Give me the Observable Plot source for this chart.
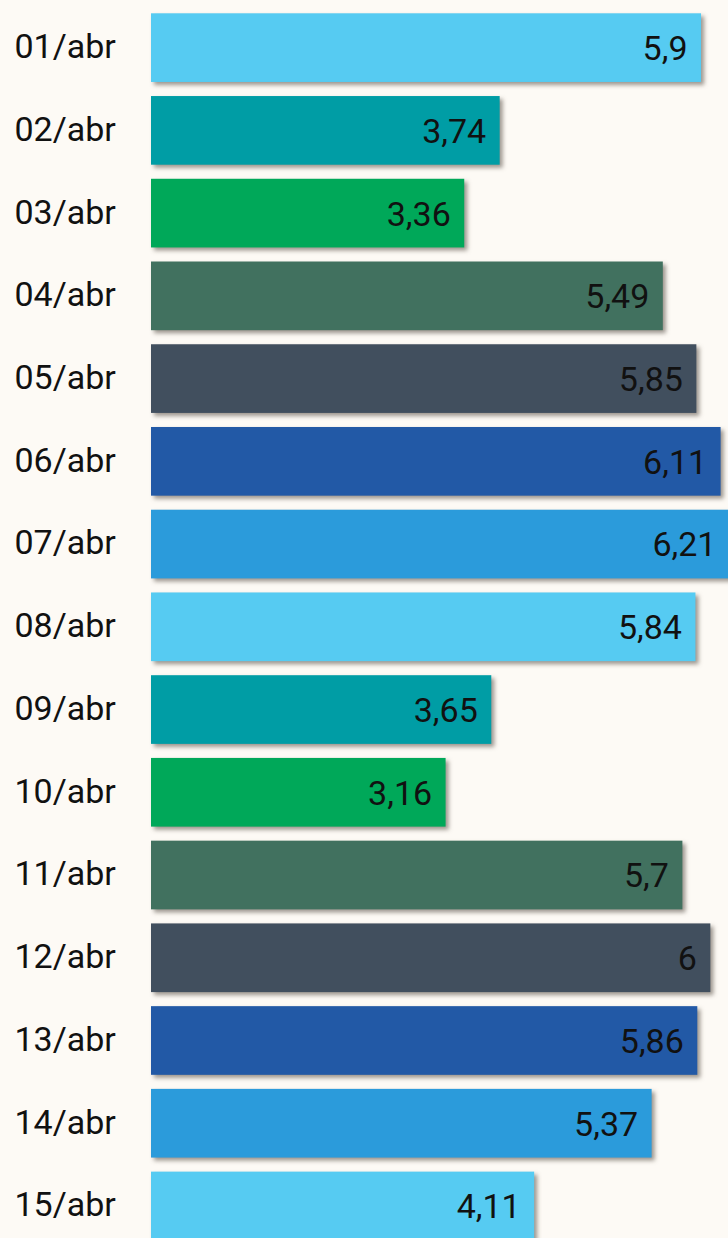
<!DOCTYPE html>
<html>
<head>
<meta charset="utf-8">
<script src="https://cdn.jsdelivr.net/npm/d3@7"></script>
<script src="https://cdn.jsdelivr.net/npm/@observablehq/plot@0.6"></script>
<style>
  html, body { margin: 0; padding: 0; background: #FDFAF5; overflow: hidden; }
  #chart { width: 728px; height: 1238px; overflow: hidden; }
  #chart svg { background: #FDFAF5; font-family: Roboto, sans-serif; }
  #chart svg g.bars rect { filter: drop-shadow(3px 3px 2px rgba(60,50,40,0.5)); }
</style>
</head>
<body>
<div id="chart"></div>
<script>
const days = ["01/abr","02/abr","03/abr","04/abr","05/abr","06/abr","07/abr","08/abr","09/abr","10/abr","11/abr","12/abr","13/abr","14/abr","15/abr"];
const values = [5.9, 3.74, 3.36, 5.49, 5.85, 6.11, 6.21, 5.84, 3.65, 3.16, 5.7, 6, 5.86, 5.37, 4.11];
const palette = ["#56CBF2", "#009DA5", "#00A859", "#41715F", "#414F5E", "#2259A6", "#2B9BDB"];

const data = days.map((d, i) => ({day: d, value: values[i], color: palette[i % palette.length]}));
const fmt = v => String(v).replace(".", ",");

const chart = Plot.plot({
  width: 728,
  height: 1238,
  marginLeft: 151,
  marginRight: 0,
  marginTop: 0,
  marginBottom: 0,
  style: {background: "#FDFAF5", fontFamily: "Roboto, sans-serif", overflow: "hidden"},
  x: {domain: [0, 6.2], range: [151, 729], axis: null},
  y: {domain: days, range: [13.3, 1240.3], paddingInner: 0.17, paddingOuter: 0, align: 0, round: false, axis: null, label: null},
  marks: [
    Plot.barX(data, {x: "value", y: "day", fill: "color", className: "bars"}),
    Plot.text(data, {x: "value", y: "day", text: d => fmt(d.value), textAnchor: "end", dx: -14, dy: 1, fontSize: 34, fill: "#111"}),
    Plot.axisY({tickSize: 0, tickPadding: 0, textAnchor: "start", dx: -137, dy: -1, fontSize: 34, fill: "#111", color: "#111", label: null})
  ]
});
d3.select(chart).selectAll("g[aria-label='bar']").classed("bars", true);
document.getElementById("chart").appendChild(chart);
</script>
</body>
</html>
